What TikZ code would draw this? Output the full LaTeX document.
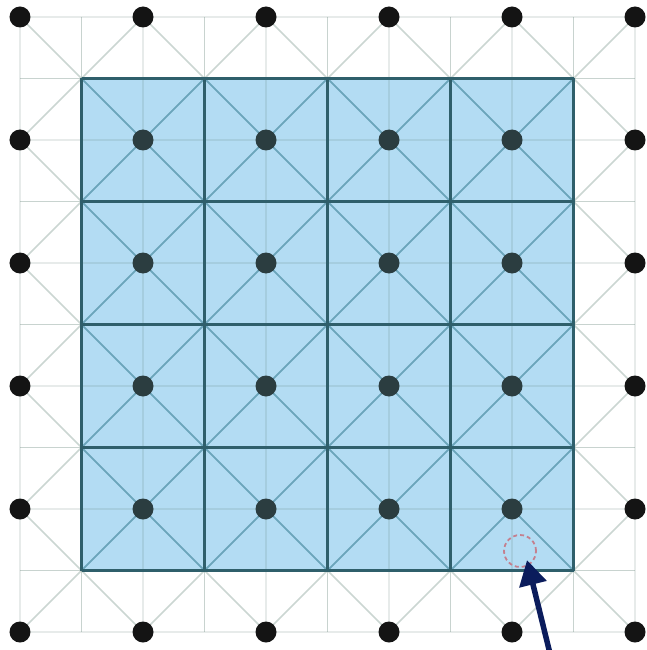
\documentclass[tikz,border=0pt]{standalone}
\usetikzlibrary{arrows.meta}
\definecolor{cellblue}{HTML}{B3DCF3}
\definecolor{celledge}{HTML}{2F5F6B}
\definecolor{latline}{HTML}{56786C}
\definecolor{innerdiag}{HTML}{6AA5BC}
\definecolor{navy}{HTML}{0B1C5C}
\definecolor{holered}{HTML}{C4808F}
\definecolor{outdot}{HTML}{141414}
\definecolor{indot}{HTML}{2B3D40}
\tikzset{
  celllinefaint/.style={draw=latline,draw opacity=0.14,line width=1.5pt},
  celllinestrong/.style={draw=latline,draw opacity=0.32,line width=1.7pt},
  diagline/.style={draw=latline,draw opacity=0.3,line width=1.7pt},
  diaginner/.style={draw=innerdiag,line width=1.7pt},
  cellfill/.style={fill=cellblue},
  celledgeline/.style={draw=celledge,line width=2.3pt},
  dotout/.style={circle,fill=outdot,inner sep=0pt,minimum size=21pt},
  dotin/.style={circle,fill=indot,inner sep=0pt,minimum size=21pt},
  holering/.style={circle,draw=holered,dashed,dash pattern=on 4pt off 3pt,line width=1.8pt,inner sep=0pt,minimum size=32pt},
  pointer/.style={draw=navy,line width=5.5pt,-{Triangle[length=25pt,width=27pt]}}
}
\begin{document}
\begin{tikzpicture}[x=61.5pt,y=-61.5pt]
\useasboundingbox[fill=white] (-0.3252,-0.2764) rectangle (10.1789,10.2927);
% blue cells
\fill[cellfill] (1,1) rectangle (9,9);
% faint grid lines
\foreach \i in {0,2,...,10} {
  \draw[celllinefaint] (\i,0) -- (\i,10);
  \draw[celllinefaint] (0,\i) -- (10,\i);
}
\foreach \i in {1,3,...,9} {
  \draw[celllinestrong] (\i,0) -- (\i,10);
  \draw[celllinestrong] (0,\i) -- (10,\i);
}
% diagonals
\foreach \d in {-8,-6,...,8} {
  \draw[diagline] ({max(0,\d)},{max(0,-\d)}) -- ({min(10,10+\d)},{min(10,10-\d)});
}
\foreach \s in {2,4,...,18} {
  \draw[diagline] ({max(0,\s-10)},{\s-max(0,\s-10)}) -- ({min(\s,10)},{\s-min(\s,10)});
}
% diagonals inside the blue region
\begin{scope}
\clip (1,1) rectangle (9,9);
\foreach \d in {-8,-6,...,8} {
  \draw[diaginner] ({max(0,\d)},{max(0,-\d)}) -- ({min(10,10+\d)},{min(10,10-\d)});
}
\foreach \s in {2,4,...,18} {
  \draw[diaginner] ({max(0,\s-10)},{\s-max(0,\s-10)}) -- ({min(\s,10)},{\s-min(\s,10)});
}
\end{scope}
% cell borders
\foreach \i in {1,3,...,9} {
  \draw[celledgeline] (\i,1) -- (\i,9);
  \draw[celledgeline] (1,\i) -- (9,\i);
}
% dots
\foreach \i in {0,...,5} {
  \foreach \j in {0,...,5} {
    \pgfmathtruncatemacro{\inside}{(\i>0)&&(\i<5)&&(\j>0)&&(\j<5)}
    \ifnum\inside=1
      \node[dotin] (d-\i-\j) at (2*\i,2*\j) {};
    \else
      \node[dotout] (d-\i-\j) at (2*\i,2*\j) {};
    \fi
  }
}
% missing position and pointer
\node[holering] (hole) at (8.130,8.683) {};
\coordinate (tail) at (8.63,10.40);
\coordinate (tip) at (8.244,8.830);
\draw[pointer] (tail) -- (tip);
\end{tikzpicture}
\end{document}
